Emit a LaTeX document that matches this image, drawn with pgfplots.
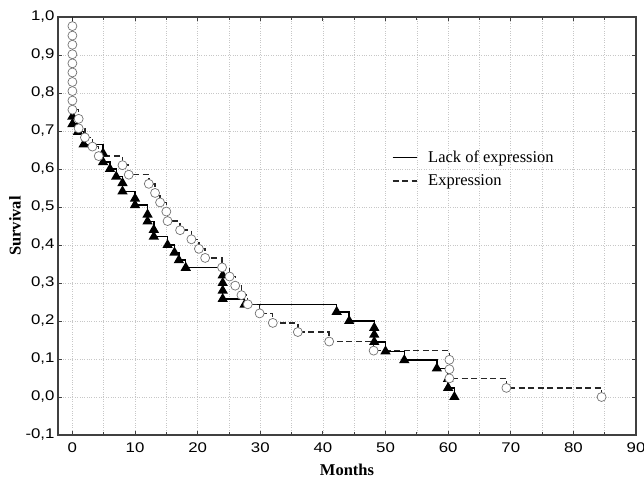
\documentclass[border=0pt]{standalone}
\usepackage{pgfplots}
\pgfplotsset{compat=1.18}
\usepackage{pgfplotstable}
\usepackage{fontspec}
\setmainfont{Liberation Serif}
\newfontfamily\tickfont[FakeStretch=1.2]{Liberation Sans}

% Expression group (dashed, open circles)
\pgfplotstableread{
t s
0 1.000
0 0.976
0 0.951
0 0.927
0 0.902
0 0.878
0 0.854
0 0.829
0 0.805
0 0.780
0 0.756
1.0 0.732
1.0 0.707
2.0 0.683
3.2 0.659
4.2 0.634
8.0 0.610
9.0 0.585
12.2 0.561
13.2 0.537
14.0 0.512
15.0 0.488
15.2 0.463
17.2 0.439
19.0 0.415
20.2 0.390
21.2 0.366
23.9 0.341
25.1 0.317
26.0 0.293
27.0 0.268
28.0 0.244
29.9 0.220
32.0 0.195
36.0 0.171
41.0 0.146
48.1 0.122
60.2 0.098
60.2 0.073
60.2 0.049
69.3 0.024
84.5 0.000
}\expr

% Lack of expression group (solid, filled triangles)
\pgfplotstableread{
t s
0 1.000
0 0.738
0 0.718
0.9 0.698
1.8 0.665
4.9 0.641
4.9 0.618
6.0 0.600
7.0 0.580
8.0 0.563
8.0 0.541
10.0 0.522
10.0 0.505
12.0 0.480
12.0 0.462
13.0 0.440
13.0 0.422
15.2 0.400
16.3 0.380
17.0 0.360
18.1 0.340
24.0 0.320
24.0 0.300
24.0 0.280
24.0 0.258
27.5 0.243
42.2 0.224
44.2 0.200
48.2 0.182
48.2 0.164
48.2 0.145
50.0 0.120
53.0 0.097
58.2 0.075
60.0 0.048
60.0 0.024
61.0 0.000
}\lack

\begin{document}
\begin{tikzpicture}
\begin{axis}[
    name=km,
    scale only axis,
    width=578bp, height=418bp,
    xmin=-2.3, xmax=90,
    ymin=-0.1, ymax=1.0,
    xtick={0,10,20,30,40,50,60,70,80,90},
    xticklabels={0,10,20,30,40,50,60,70,80,90},
    minor xtick={5,15,25,35,45,55,65,75,85},
    ytick={-0.1,0,0.1,0.2,0.3,0.4,0.5,0.6,0.7,0.8,0.9,1.0},
    yticklabels={{-0,1},{0,0},{0,1},{0,2},{0,3},{0,4},{0,5},{0,6},{0,7},{0,8},{0,9},{1,0}},
    tick align=inside,
    major tick length=4bp, minor tick length=3bp,
    xmajorgrids, xminorgrids, ymajorgrids,
    grid style={dotted, black!22, line width=0.6bp},
    axis line style={black!75, line width=1.3bp},
    tick style={black!75, line width=0.8bp},
    ticklabel style={font=\tickfont\fontsize{14bp}{16bp}\selectfont},
    xticklabel style={yshift=-4bp},
    xlabel={\textbf{Months}},
    ylabel={\textbf{Survival}},
    label style={font=\fontsize{16.5bp}{19bp}\selectfont},
    xlabel style={at={(axis description cs:0.5,-0.0837)}, anchor=center},
    ylabel style={at={(axis description cs:-0.0744,0.5)}, anchor=center},
    legend style={draw=none, fill=none, at={(axis description cs:0.572,0.69)},
        anchor=north west, font=\fontsize{16.5bp}{19bp}\selectfont, row sep=7bp,
        /tikz/every odd column/.append style={column sep=9bp}},
    legend cell align=left,
    legend image code/.code={\draw[#1,mark=none] (0bp,0bp) -- (24bp,0bp);},
]
\addplot[black, line width=1.4bp, const plot,
    mark=triangle*, mark phase=2, mark repeat=1, mark size=4.6bp,
    mark options={solid, fill=black}] table[x=t, y=s] {\lack};
\addlegendentry{Lack of expression}
\addplot[black!85, line width=1.4bp, dash pattern=on 6bp off 3.5bp, const plot,
    mark=*, mark phase=2, mark repeat=1, mark size=4.5bp,
    mark options={solid, draw=black!55, fill=white, line width=0.7bp}] table[x=t, y=s] {\expr};
\addlegendentry{Expression}
\end{axis}
\pgfresetboundingbox
\path (km.south west) ++(-58bp,-49bp) rectangle ++(644bp,484bp);
\end{tikzpicture}
\end{document}
